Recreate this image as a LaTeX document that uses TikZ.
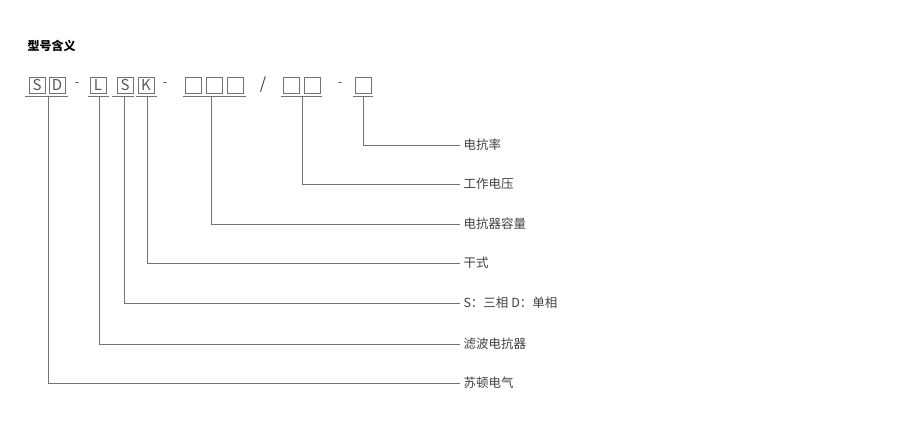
\documentclass[tikz,border=0pt]{standalone}
\usepackage{fontspec}
\setmainfont{Noto Sans CJK SC}
\begin{document}
\begin{tikzpicture}[x=1pt,y=-1pt,
  every node/.style={font=\fontsize{12.5}{14}\selectfont,text=black!75},
  codebox/.style={draw=black!55,line width=0.8pt,minimum width=16pt,minimum height=16pt,inner sep=0pt,font=\fontsize{15}{16}\selectfont,text=black!65},
  leader/.style={draw=black!55,line width=0.8pt}]
  \useasboundingbox (0,0) rectangle (900,430);
  \def\X{455} % end of the leader lines

  % --- title
  \node[anchor=west,font=\bfseries\fontsize{12}{14}\selectfont,text=black] (title) at (24,46) {型号含义};

  % --- code boxes
  \node[codebox] (s1) at (37,85) {S};
  \node[codebox] (d1) at (57,85) {D};
  \node[codebox] (l1) at (98,85) {L};
  \node[codebox] (s2) at (125,85) {S};
  \node[codebox] (k1) at (146,85) {K};
  \foreach \i/\x in {1/193,2/214,3/235}
    \node[codebox] (c\i) at (\x,85) {};
  \foreach \i/\x in {1/291,2/312}
    \node[codebox] (v\i) at (\x,85) {};
  \node[codebox] (r1) at (363,85) {};

  % --- separators
  \node (m1) at (77,85) {-};
  \node (m2) at (165,85) {-};
  \node[font=\fontsize{16}{18}\selectfont] (m3) at (263,85) {/};
  \node (m4) at (340,85) {-};

  % --- underlines
  \foreach \a/\b in {25/68,88/109,112/134,136/157,183/246,281/322,353/373}
    \draw[leader] (\a,96) -- (\b,96);

  % --- leader lines and labels
  \foreach \x/\y/\t/\n in {363/145/电抗率/p1,302/184/工作电压/p2,211/224/电抗器容量/p3,
      147/263/干式/p4,124/303/S：三相 D：单相/p5,99/344/滤波电抗器/p6,48/383/苏顿电气/p7}{
    \node[anchor=west] (\n) at (\X+5,\y) {\t};
    \coordinate (\n c) at (\x,96);
    \draw[leader] (\n c) |- (\n.west);
  }
\end{tikzpicture}
\end{document}
